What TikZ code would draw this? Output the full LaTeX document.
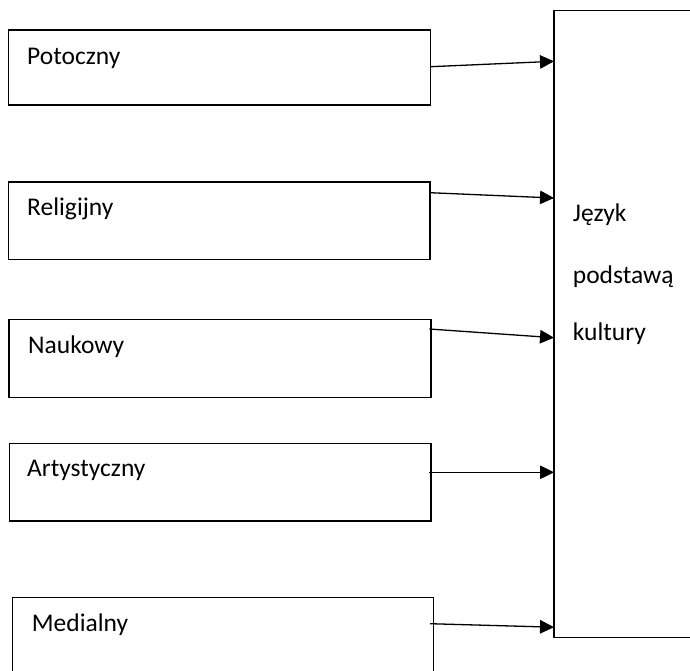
\documentclass[tikz,border=0pt]{standalone}
\usepackage{fontspec}
\setmainfont{Carlito}
\usetikzlibrary{arrows.meta}
\begin{document}
\begin{tikzpicture}[x=1pt,y=-1pt,
  box/.style={draw=black, line width=1.3pt, rectangle, inner sep=0pt, outer sep=0pt, anchor=north west},
  lbl/.style={anchor=base west, inner sep=0pt, font=\fontsize{25.5}{30}\selectfont},
  conn/.style={draw=black, line width=1.3pt, -{Triangle[length=14pt,width=13.5pt]}}]
\useasboundingbox (0,0) rectangle (690,670);
\clip (0,0) rectangle (690,670);
\node[box, minimum width=422pt, minimum height=75pt] (pot) at (8.5,30) {};
\node[box, minimum width=421.5pt, minimum height=77.3pt] (rel) at (8.5,182) {};
\node[box, minimum width=422pt, minimum height=78pt] (nau) at (9,319.3) {};
\node[box, minimum width=421.7pt, minimum height=77.7pt] (art) at (9.3,443.3) {};
\node[box, minimum width=420.6pt, minimum height=90pt] (med) at (12.7,597.3) {};
\node[box, minimum width=160pt, minimum height=627pt] (big) at (554,10.7) {};
\node[lbl] (t1) at (27,64) {Potoczny};
\node[lbl] (t2) at (27,215) {Religijny};
\node[lbl] (t3) at (28,353.3) {Naukowy};
\node[lbl] (t4) at (27,476) {Artystyczny};
\node[lbl] (t5) at (31.7,631.7) {Medialny};
\node[lbl] (b1) at (572.7,221.7) {Język};
\node[lbl] (b2) at (572.7,283.3) {podstawą};
\node[lbl] (b3) at (572.7,340.7) {kultury};
\draw[conn] ([yshift=-36.7pt]pot.north east) -- ([yshift=-50.6pt]big.north west);
\draw[conn] ([yshift=-10.7pt]rel.north east) -- ([yshift=-187.3pt]big.north west);
\draw[conn] ([xshift=-1.7pt,yshift=-9.7pt]nau.north east) -- ([yshift=-327pt]big.north west);
\draw[conn] ([xshift=-2pt,yshift=-29pt]art.north east) -- ([yshift=-461.6pt]big.north west);
\draw[conn] ([xshift=-3.3pt,yshift=-26.4pt]med.north east) -- ([yshift=-616.5pt]big.north west);
\end{tikzpicture}
\end{document}
